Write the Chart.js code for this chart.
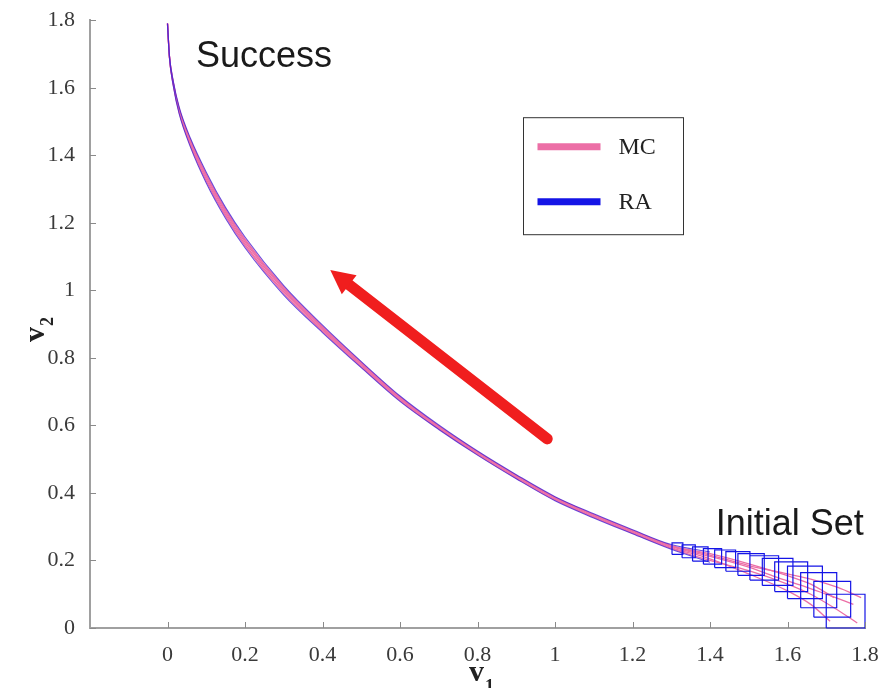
<!DOCTYPE html>
<html>
<head>
<meta charset="utf-8">
<script src="https://cdn.jsdelivr.net/npm/chart.js@4.4.1/dist/chart.umd.min.js"></script>
<style>
  html, body { margin: 0; padding: 0; background: #fff; }
  #wrap { width: 895px; height: 688px; }
</style>
</head>
<body>
<div id="wrap"><canvas id="reachChart" width="895" height="688"></canvas></div>
<script>
// axis ticks
const v1Ticks = [0, 0.2, 0.4, 0.6, 0.8, 1, 1.2, 1.4, 1.6, 1.8];
const v2Ticks = [0, 0.2, 0.4, 0.6, 0.8, 1, 1.2, 1.4, 1.6, 1.8];

// v1 samples once the runs have merged into the main path
const pathV1 = [1.4, 1.3, 1.2, 1.1, 1.0, 0.9, 0.8, 0.7, 0.6, 0.5, 0.4, 0.3, 0.2, 0.15, 0.1, 0.06, 0.03, 0.015, 0.005, 0];

// Monte Carlo runs: start inside the initial set, then follow pathV1
const mcHeads = [
  [[1.78, 0.015], [1.72, 0.06], [1.66, 0.1], [1.6, 0.13], [1.5, 0.17]],
  [[1.72, 0.09], [1.66, 0.13], [1.6, 0.155], [1.5, 0.19]],
  [[1.77, 0.07], [1.7, 0.1], [1.64, 0.125], [1.58, 0.147], [1.5, 0.18]],
  [[1.71, 0.02], [1.66, 0.07], [1.6, 0.11], [1.5, 0.16]],
  [[1.79, 0.09], [1.73, 0.12], [1.66, 0.145], [1.6, 0.16], [1.5, 0.185]]
];
const mcTails = [
  [0.2, 0.236, 0.281, 0.328, 0.379, 0.444, 0.514, 0.59, 0.674, 0.774, 0.879, 0.991, 1.132, 1.219, 1.324, 1.427, 1.527, 1.608, 1.69, 1.79],
  [0.22, 0.244, 0.289, 0.336, 0.387, 0.452, 0.522, 0.598, 0.684, 0.786, 0.893, 1.009, 1.152, 1.239, 1.344, 1.443, 1.539, 1.616, 1.694, 1.79],
  [0.212, 0.241, 0.286, 0.333, 0.384, 0.449, 0.519, 0.595, 0.68, 0.781, 0.887, 1.001, 1.143, 1.23, 1.335, 1.436, 1.534, 1.613, 1.692, 1.79],
  [0.205, 0.238, 0.283, 0.33, 0.381, 0.446, 0.516, 0.592, 0.677, 0.777, 0.883, 0.996, 1.137, 1.224, 1.329, 1.431, 1.53, 1.61, 1.691, 1.79],
  [0.216, 0.243, 0.288, 0.335, 0.386, 0.451, 0.521, 0.597, 0.682, 0.783, 0.89, 1.005, 1.148, 1.235, 1.34, 1.44, 1.537, 1.614, 1.693, 1.79]
];

// reachable set: boxes [v1min, v1max, v2min, v2max] and the outer bounds along pathV1
const raBoxes = [
  [1.700, 1.800, 0.000, 0.100],
  [1.668, 1.763, 0.032, 0.138],
  [1.634, 1.727, 0.060, 0.164],
  [1.600, 1.690, 0.087, 0.183],
  [1.567, 1.652, 0.108, 0.196],
  [1.535, 1.614, 0.126, 0.206],
  [1.503, 1.577, 0.142, 0.214],
  [1.472, 1.540, 0.156, 0.220],
  [1.441, 1.503, 0.168, 0.226],
  [1.412, 1.466, 0.179, 0.231],
  [1.383, 1.430, 0.189, 0.235],
  [1.355, 1.395, 0.198, 0.240],
  [1.328, 1.362, 0.208, 0.246],
  [1.302, 1.330, 0.218, 0.252]
];
const raUpper = [0.225, 0.247, 0.291, 0.338, 0.389, 0.454, 0.524, 0.601, 0.687, 0.789, 0.897, 1.014, 1.158, 1.245, 1.35, 1.448, 1.543, 1.619, 1.696, 1.79];
const raLower = [0.195, 0.233, 0.279, 0.326, 0.377, 0.442, 0.512, 0.588, 0.671, 0.771, 0.875, 0.986, 1.126, 1.213, 1.318, 1.422, 1.523, 1.605, 1.688, 1.79];

// direction arrow (v1, v2) and the two notes
const arrowFrom = [0.98, 0.56];
const arrowTo = [0.42, 1.06];
const notes = [
  { text: 'Success', v1: 0.249, v2: 1.662 },
  { text: 'Initial Set', v1: 1.606, v2: 0.274 }
];

const mcColor = '#ec6fa6';
const raColor = '#1414e6';

const datasets = [];
mcHeads.forEach((head, i) => {
  const pts = head.map(p => ({ x: p[0], y: p[1] }))
    .concat(pathV1.map((v, k) => ({ x: v, y: mcTails[i][k] })));
  datasets.push({
    label: 'MC', data: pts, showLine: true, borderColor: mcColor, borderWidth: 1.3,
    pointRadius: 0, cubicInterpolationMode: 'monotone', order: 2
  });
});

[raUpper, raLower].forEach(arr => {
  datasets.push({
    label: 'RA', data: pathV1.map((v, k) => ({ x: v, y: arr[k] })), showLine: true,
    borderColor: 'rgba(70, 30, 210, 0.8)', borderWidth: 1.1, pointRadius: 0,
    cubicInterpolationMode: 'monotone', order: 1
  });
});

const boxPts = [];
raBoxes.forEach(b => {
  boxPts.push({ x: b[0], y: b[2] }, { x: b[1], y: b[2] }, { x: b[1], y: b[3] },
    { x: b[0], y: b[3] }, { x: b[0], y: b[2] }, { x: b[0], y: null });
});
datasets.push({
  label: 'RA', data: boxPts, showLine: true, spanGaps: false, borderColor: raColor,
  borderWidth: 1.2, pointRadius: 0, tension: 0, order: 0, clip: false
});

const serif = '"Liberation Serif", "Times New Roman", serif';

const overlay = {
  id: 'overlay',
  afterDraw(chart) {
    const { ctx, chartArea: a, scales: { x, y } } = chart;
    ctx.save();

    // inward tick marks
    ctx.strokeStyle = '#8a8a8a';
    ctx.lineWidth = 1;
    ctx.beginPath();
    v1Ticks.forEach(v => {
      const px = Math.round(x.getPixelForValue(v)) + 0.5;
      ctx.moveTo(px, a.bottom); ctx.lineTo(px, a.bottom - 6);
    });
    v2Ticks.forEach(v => {
      const py = Math.round(y.getPixelForValue(v)) + 0.5;
      ctx.moveTo(a.left, py); ctx.lineTo(a.left + 6, py);
    });
    ctx.stroke();

    // red arrow
    const x0 = x.getPixelForValue(arrowFrom[0]), y0 = y.getPixelForValue(arrowFrom[1]);
    const x1 = x.getPixelForValue(arrowTo[0]), y1 = y.getPixelForValue(arrowTo[1]);
    const ang = Math.atan2(y1 - y0, x1 - x0);
    const head = 24, half = 12;
    const bx = x1 - head * Math.cos(ang), by = y1 - head * Math.sin(ang);
    ctx.strokeStyle = '#f01e1e';
    ctx.fillStyle = '#f01e1e';
    ctx.lineWidth = 11;
    ctx.lineCap = 'round';
    ctx.beginPath();
    ctx.moveTo(x0, y0); ctx.lineTo(bx + 4 * Math.cos(ang), by + 4 * Math.sin(ang));
    ctx.stroke();
    ctx.beginPath();
    ctx.moveTo(x1, y1);
    ctx.lineTo(bx + half * Math.sin(ang), by - half * Math.cos(ang));
    ctx.lineTo(bx - half * Math.sin(ang), by + half * Math.cos(ang));
    ctx.closePath();
    ctx.fill();

    // notes
    ctx.fillStyle = '#1a1a1a';
    ctx.font = '36px "Liberation Sans", Arial, sans-serif';
    ctx.textAlign = 'center';
    ctx.textBaseline = 'alphabetic';
    notes.forEach(n => ctx.fillText(n.text, x.getPixelForValue(n.v1), y.getPixelForValue(n.v2)));

    // legend
    const lx = a.left + 433.5, ly = a.top + 97.5;
    ctx.strokeStyle = '#333';
    ctx.lineWidth = 1;
    ctx.lineCap = 'butt';
    ctx.strokeRect(lx, ly, 160, 117);
    [['MC', mcColor, 29], ['RA', raColor, 84]].forEach(([t, c, dy]) => {
      ctx.strokeStyle = c;
      ctx.lineWidth = 7;
      ctx.beginPath();
      ctx.moveTo(lx + 14, ly + dy); ctx.lineTo(lx + 77, ly + dy);
      ctx.stroke();
      ctx.fillStyle = '#222';
      ctx.font = '24px ' + serif;
      ctx.textAlign = 'left';
      ctx.textBaseline = 'middle';
      ctx.fillText(t, lx + 95, ly + dy + 1);
    });

    // axis titles with subscripts
    ctx.fillStyle = '#222';
    ctx.textAlign = 'left';
    ctx.textBaseline = 'alphabetic';
    ctx.font = 'bold 30px ' + serif;
    ctx.fillText('v', 469, 681);
    ctx.font = 'bold 18px ' + serif;
    ctx.fillText('1', 485, 692);

    ctx.translate(44, 342);
    ctx.rotate(-Math.PI / 2);
    ctx.font = 'bold 30px ' + serif;
    ctx.fillText('v', 0, 0);
    ctx.font = 'bold 18px ' + serif;
    ctx.fillText('2', 16, 9);

    ctx.restore();
  }
};

const axisFont = { family: serif, size: 22 };

new Chart(document.getElementById('reachChart').getContext('2d'), {
  type: 'scatter',
  data: { datasets },
  options: {
    responsive: false,
    animation: false,
    layout: { padding: { top: 16, right: 30, left: 0, bottom: 0 } },
    plugins: { legend: { display: false }, tooltip: { enabled: false } },
    scales: {
      x: {
        type: 'linear', min: -0.2, max: 1.8,
        afterBuildTicks: s => { s.ticks = v1Ticks.map(v => ({ value: v })); },
        afterFit: s => { s.height = 60; },
        grid: { display: false },
        border: { color: '#a0a0a0', width: 2 },
        ticks: { color: '#3a3a3a', font: axisFont, padding: 6, maxRotation: 0, autoSkip: false,
          callback: v => String(+v.toFixed(1)) }
      },
      y: {
        type: 'linear', min: 0, max: 1.8,
        afterBuildTicks: s => { s.ticks = v2Ticks.map(v => ({ value: v })); },
        afterFit: s => { s.width = 90; },
        grid: { display: false },
        border: { color: '#a0a0a0', width: 2 },
        ticks: { color: '#3a3a3a', font: axisFont, padding: 7, autoSkip: false,
          callback: v => String(+v.toFixed(1)) }
      }
    }
  },
  plugins: [overlay]
});
</script>
</body>
</html>
